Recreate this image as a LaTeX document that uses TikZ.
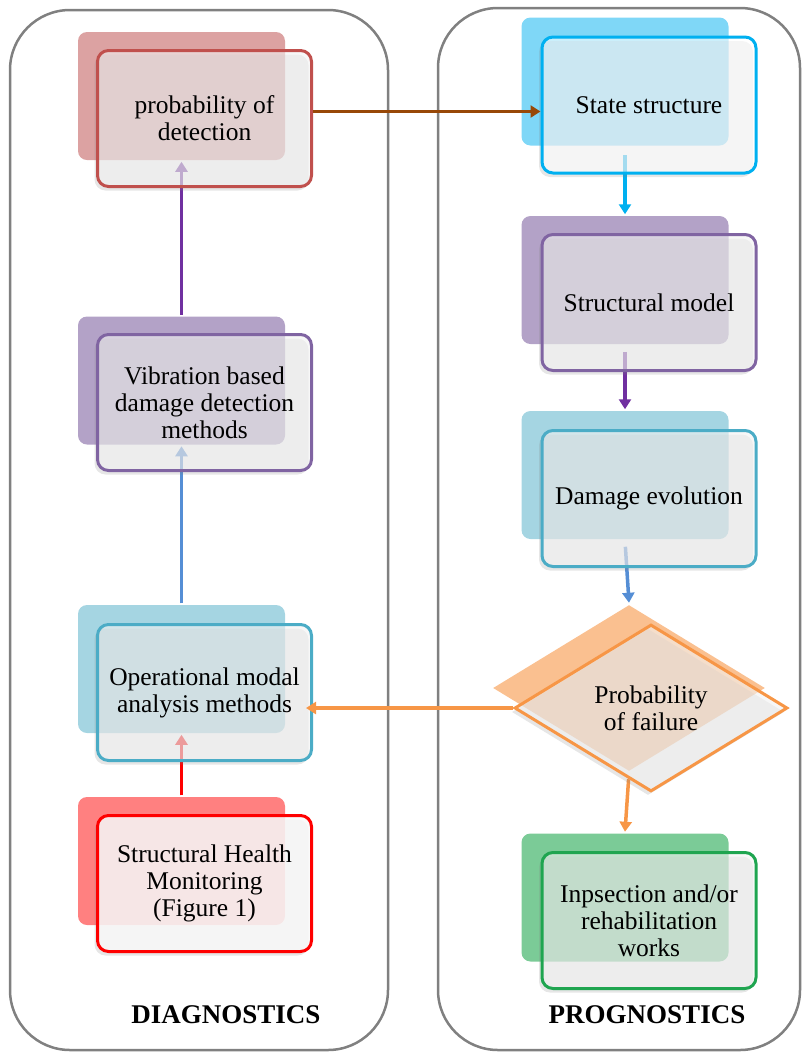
\documentclass[tikz,border=0pt]{standalone}
\usepackage{fontspec}
\setmainfont{Liberation Serif}
\usetikzlibrary{arrows.meta,shapes.geometric,shadows}
% màu viền và màu nền khung sau
\definecolor{podc}{HTML}{C0504D}\definecolor{podbk}{HTML}{DCA2A2}
\definecolor{vibc}{HTML}{8064A2}\definecolor{vibbk}{HTML}{B3A2C7}
\definecolor{opmc}{HTML}{4BACC6}\definecolor{opmbk}{HTML}{A5D5E2}
\definecolor{shmc}{HTML}{FF0000}\definecolor{shmbk}{HTML}{FF8080}
\definecolor{statec}{HTML}{00B0F0}\definecolor{statebk}{HTML}{7FD7F7}
\definecolor{failc}{HTML}{F79646}\definecolor{failbk}{HTML}{FAC090}
\definecolor{inspc}{HTML}{1FA550}\definecolor{inspbk}{HTML}{7BCB97}
\definecolor{brownc}{HTML}{984807}\definecolor{violetc}{HTML}{7030A0}
\definecolor{bluec}{HTML}{558ED5}

\begin{document}
\begin{tikzpicture}[x=1pt, y=-1pt, line width=3.5pt, >={Triangle[width=12pt,length=10pt]},
	bk/.style={rounded corners=9pt, minimum width=207pt, minimum height=128pt, inner sep=0pt},
	bkdia/.style={diamond, aspect=1.63, minimum width=273pt, minimum height=167pt, inner sep=0pt},
	front/.style={draw, line width=3pt, fill=gray!10, fill opacity=0.6, text opacity=1, align=center,
		drop shadow={shadow xshift=-3pt, shadow yshift=-4pt, opacity=0.2},
		font=\fontsize{25.5}{27}\selectfont},
	fr/.style={front, rounded corners=11pt, minimum width=214pt, minimum height=136pt},
	title/.style={font=\fontsize{27}{30}\selectfont\bfseries},
	panel/.style={draw=gray, line width=2.5pt, rounded corners=60pt}]
	\useasboundingbox (0,0) rectangle (803,1053);
	% Hai khung lớn
	\draw[panel] (10,10) rectangle (388,1050);
	\draw[panel] (438,8) rectangle (800,1050);
	\node[title] (diag) at (226,1015) {DIAGNOSTICS};
	\node[title] (prog) at (647,1015) {PROGNOSTICS};
	% Các khung nền phía sau
	\node[bk, fill=podbk] (podbk) at (181.5,96) {};
	\node[bk, fill=vibbk] (vibbk) at (181.5,380.5) {};
	\node[bk, fill=opmbk] (opmbk) at (181.5,669) {};
	\node[bk, fill=shmbk] (shmbk) at (181.5,861) {};
	\node[bk, fill=statebk] (statebk) at (625,81.5) {};
	\node[bk, fill=vibbk] (structbk) at (625,280) {};
	\node[bk, fill=opmbk] (dmgbk) at (625,475) {};
	\node[bkdia, fill=failbk] (failbk) at (629,688) {};
	\node[bk, fill=inspbk] (inspbk) at (625,897.5) {};
	% Các mũi tên nối
	\draw[->, shmc] (shmbk.north) -- (opmbk.south);
	\draw[->, bluec] (opmbk.north) -- (vibbk.south);
	\draw[->, violetc] (vibbk.north) -- (podbk.south);
	\draw[->, statec, shorten <=8pt] (statebk.south) -- (structbk.north);
	\draw[->, violetc, shorten <=6pt] (structbk.south) -- (dmgbk.north);
	\draw[->, bluec, shorten <=6pt] (dmgbk.south) -- (failbk.north);
	\draw[->, failc, shorten <=6pt] (failbk.south) -- (inspbk.north);
	% Các khung chính có chữ
	\node[fr, draw=podc] (pod) at (204.5,118.5) {probability of\\detection};
	\node[fr, draw=vibc] (vib) at (204.5,402.5) {Vibration based\\damage detection\\methods};
	\node[fr, draw=opmc] (opm) at (204.5,692.5) {Operational modal\\analysis methods};
	\node[fr, draw=shmc, fill=gray!5, fill opacity=0.85] (shm) at (204.5,883.5) {Structural Health\\Monitoring\\(Figure 1)};
	\node[fr, draw=statec, fill=white] (state) at (649,105) {State structure};
	\node[fr, draw=vibc] (struct) at (649,302.5) {Structural model};
	\node[fr, draw=opmc] (dmg) at (649,498.5) {Damage evolution};
	\node[front, bkdia, draw=failc] (fail) at (651,708) {Probability\\of failure};
	\node[fr, draw=inspc] (insp) at (649,920.5) {Inpsection and/or\\rehabilitation\\works};
	% Hai mũi tên ngang
	\draw[->, brownc] ([yshift=7pt]pod.east) -- ([yshift=7pt]pod.east -| state.west);
	\draw[->, failc] (fail.west) -- ([xshift=-7pt]fail.west -| opm.east);
\end{tikzpicture}
\end{document}
